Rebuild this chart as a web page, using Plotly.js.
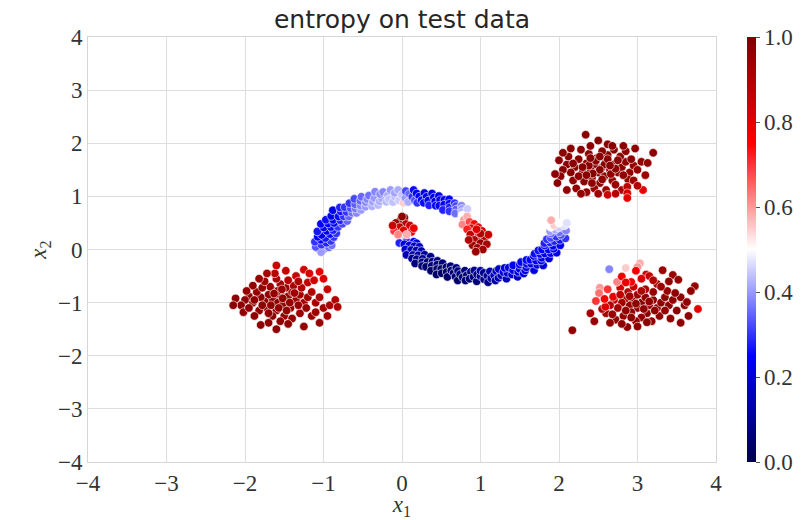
<!DOCTYPE html>
<html>
<head>
<meta charset="utf-8">
<script src="https://cdn.plot.ly/plotly-3.0.1.min.js"></script>
<style>html,body{margin:0;padding:0;background:#fff;}#chart{width:809px;height:520px;}</style>
</head>
<body>
<div id="chart"></div>
<script>
// Each point: [x1, x2, entropy]
const upperMoon = [
[-1.0,0.0,.36],[-1.07,0.02,.38],[-1.03,-0.05,.4],[-0.929,0.041,.35],[-1.099,0.048,.33],
[-1.026,0.09,.3],[-0.896,0.078,.36],[-0.961,0.127,.28],[-1.11,0.147,.3],[-1.034,0.183,.25],
[-0.906,0.16,.3],[-0.976,0.216,.27],[-1.074,0.238,.24],[-0.869,0.233,.3],[-1.024,0.275,.24],
[-0.916,0.289,.26],[-1.078,0.34,.27],[-0.959,0.349,.23],[-0.837,0.304,.3],[-0.998,0.414,.24],
[-0.878,0.364,.28],[-0.906,0.423,.26],[-1.033,0.482,.25],[-0.816,0.425,.3],[-0.94,0.49,.23],
[-0.866,0.5,.25],[-0.97,0.56,.26],[-0.759,0.483,.32],[-0.877,0.558,.24],[-0.786,0.551,.28],
[-0.901,0.631,.22],[-0.809,0.621,.26],[-0.698,0.536,.35],[-0.881,0.739,.22],[-0.743,0.624,.3],
[-0.781,0.717,.27],[-0.678,0.622,.35],[-0.707,0.707,.3],[-0.792,0.792,.28],[-0.635,0.693,.36],
[-0.73,0.796,.3],[-0.656,0.781,.33],[-0.579,0.689,.38],[-0.67,0.872,.3],[-0.591,0.769,.37],
[-0.597,0.852,.34],[-0.522,0.745,.4],[-0.527,0.826,.38],[-0.607,0.953,.32],[-0.53,0.918,.35],
[-0.465,0.805,.4],[-0.462,0.887,.39],[-0.517,0.993,.35],[-0.381,0.815,.42],[-0.444,0.951,.38],
[-0.372,0.896,.41],[-0.421,1.016,.36],[-0.352,0.968,.4],[-0.304,0.837,.43],[-0.343,1.088,.38],
[-0.286,0.906,.42],[-0.259,0.966,.41],[-0.28,1.043,.39],[-0.199,0.898,.43],[-0.24,1.084,.38],
[-0.181,1.024,.42],[-0.167,0.946,.44],[-0.147,1.12,.4],[-0.117,0.892,.44],[-0.087,0.996,.43],
[-0.093,1.066,.41],[-0.041,0.929,.45],[-0.049,1.119,.42],[0.0,1.03,.44],[0.02,0.88,.55],
[0.042,0.969,.4],[0.048,1.099,.32],[0.091,1.046,.35],[0.078,0.896,.42],[0.131,0.991,.3],
[0.148,1.12,.26],[0.164,0.926,.33],[0.186,1.054,.24],[0.22,0.996,.23],[0.194,0.878,.3],
[0.285,1.063,.22],[0.249,0.927,.25],[0.313,0.992,.21],[0.277,0.878,.26],[0.335,0.921,.22],
[0.383,1.053,.22],[0.406,0.979,.2],[0.345,0.832,.28],[0.423,0.906,.21],[0.47,1.006,.2],
[0.43,0.825,.25],[0.485,0.931,.21],[0.54,0.935,.22],[0.475,0.823,.24],[0.537,0.843,.23],
[0.601,0.944,.25],[0.522,0.745,.28],[0.603,0.86,.24],[0.609,0.793,.27],[0.67,0.872,.3],
[0.604,0.72,.3],[0.688,0.82,.32],[0.69,0.752,.34],[0.757,0.825,.38],[0.679,0.679,.36],
[0.764,0.764,.4],[0.766,0.703,.42],[0.833,0.764,.45],[0.766,0.643,.5]
];
const upperTip = [
[0.79,0.56,.6],[0.83,0.62,.58],[0.77,0.47,.62],[0.86,0.52,.68],[0.92,0.48,.75],
[0.88,0.4,.78],[0.97,0.42,.8],[0.83,0.38,.72],[0.93,0.33,.85],[1.02,0.35,.82],
[0.87,0.28,.88],[0.98,0.25,.92],[1.05,0.22,.9],[0.92,0.18,.93],[1.0,0.12,.95],
[0.9,0.08,.94],[1.08,0.1,.92],[0.96,0.03,.95],[1.03,0.0,.94],[0.94,-0.04,.95],
[1.1,0.28,.86],[0.85,0.18,.9],[1.0,0.3,.9],[0.95,0.38,.82]
];
const lowerMoon = [
[0.06,0.158,.3],[-0.034,0.124,.28],[0.15,0.148,.25],[0.03,0.098,.22],[0.094,0.077,.2],
[0.185,0.119,.22],[0.042,0.001,.18],[0.157,0.061,.17],[0.117,-0.01,.15],[0.221,0.05,.18],
[0.056,-0.101,.14],[0.182,-0.021,.13],[0.14,-0.103,.12],[0.247,-0.028,.15],[0.207,-0.109,.1],
[0.128,-0.17,.1],[0.288,-0.098,.1],[0.188,-0.182,.08],[0.263,-0.176,.08],[0.167,-0.264,.07],
[0.364,-0.136,.09],[0.258,-0.242,.06],[0.324,-0.237,.07],[0.256,-0.311,.05],[0.389,-0.228,.07],
[0.306,-0.327,.05],[0.379,-0.309,.05],[0.452,-0.214,.08],[0.369,-0.401,.04],[0.449,-0.286,.06],
[0.447,-0.368,.05],[0.517,-0.259,.07],[0.5,-0.366,.05],[0.44,-0.47,.04],[0.566,-0.334,.06],
[0.506,-0.449,.04],[0.569,-0.424,.05],[0.619,-0.315,.07],[0.579,-0.516,.04],[0.628,-0.396,.05],
[0.658,-0.44,.05],[0.692,-0.346,.07],[0.681,-0.511,.05],[0.714,-0.406,.06],[0.71,-0.582,.05],
[0.741,-0.466,.06],[0.801,-0.398,.08],[0.773,-0.525,.06],[0.826,-0.485,.06],[0.809,-0.584,.05],
[0.878,-0.422,.08],[0.861,-0.55,.06],[0.911,-0.516,.07],[0.922,-0.396,.1],[0.952,-0.599,.06],
[0.957,-0.469,.08],[1.0,-0.5,.08],[1.0,-0.4,.12],[1.046,-0.559,.08],[1.041,-0.439,.1],
[1.087,-0.496,.1],[1.097,-0.616,.09],[1.12,-0.412,.14],[1.137,-0.541,.11],[1.174,-0.485,.13],
[1.191,-0.584,.12],[1.201,-0.406,.16],[1.229,-0.534,.14],[1.264,-0.485,.15],[1.233,-0.369,.18],
[1.331,-0.549,.15],[1.292,-0.425,.18],[1.342,-0.44,.17],[1.308,-0.346,.2],[1.402,-0.47,.18],
[1.36,-0.342,.2],[1.473,-0.515,.17],[1.415,-0.388,.2],[1.416,-0.298,.22],[1.48,-0.422,.2],
[1.5,-0.366,.21],[1.55,-0.453,.2],[1.5,-0.284,.23],[1.57,-0.393,.21],[1.585,-0.335,.22],
[1.517,-0.237,.24],[1.682,-0.389,.2],[1.591,-0.27,.23],[1.643,-0.266,.22],[1.585,-0.197,.25],
[1.723,-0.289,.2],[1.635,-0.193,.24],[1.707,-0.207,.22],[1.799,-0.299,.2],[1.678,-0.122,.25],
[1.774,-0.209,.22],[1.781,-0.156,.22],[1.689,-0.079,.26],[1.873,-0.17,.2],[1.761,-0.084,.24],
[1.819,-0.074,.23],[1.737,-0.017,.26],[1.894,-0.069,.22],[1.784,0.001,.25],[1.866,0.0,.23],
[1.97,-0.06,.22],[1.816,0.075,.26],[1.931,0.015,.24],[1.924,0.069,.25],[1.815,0.119,.28],
[2.016,0.079,.24],[1.887,0.133,.28],[1.94,0.158,.28],[1.846,0.192,.3],[2.011,0.181,.27],
[1.896,0.217,.32],[1.966,0.241,.3],[2.082,0.21,.3],[1.898,0.301,.35],[2.025,0.273,.33],
[2.005,0.323,.36],[1.887,0.343,.4],[2.09,0.356,.38],[1.951,0.374,.42],[1.996,0.413,.45],
[1.896,0.422,.5],[2.069,0.453,.47],[1.939,0.459,.55],[2.0,0.5,.5],[2.1,0.5,.47],[1.9,0.55,.58]
];
const lowerTip = [
[-0.02,0.55,.97],[0.03,0.6,.96],[-0.08,0.5,.95],[0.05,0.48,.9],[-0.03,0.42,.88],
[0.1,0.45,.85],[0.02,0.36,.8],[0.12,0.33,.75],[-0.1,0.35,.7],[-0.05,0.28,.62],
[0.06,0.28,.58],[0.15,0.4,.78],[-0.12,0.45,.85],[0.0,0.62,.97]
];
const leftCluster = [
[-1.6,-0.9,.97],[-1.55,-0.85,.96],[-1.65,-0.95,.97],[-1.5,-0.95,.96],[-1.7,-0.85,.97],[-1.58,-1.0,.97],[-1.62,-0.78,.95],[-1.45,-0.88,.95],[-1.75,-0.98,.97],[-1.52,-1.05,.96],
[-1.68,-0.7,.95],[-1.4,-0.8,.94],[-1.8,-0.9,.97],[-1.48,-0.72,.94],[-1.72,-1.1,.97],[-1.35,-0.95,.95],[-1.85,-0.8,.96],[-1.6,-1.15,.97],[-1.42,-1.1,.96],[-1.9,-1.0,.97],
[-1.55,-0.65,.93],[-1.3,-0.85,.93],[-1.78,-0.72,.96],[-1.25,-1.0,.94],[-1.95,-0.88,.97],[-1.65,-1.25,.97],[-1.38,-0.68,.92],[-1.5,-1.25,.96],[-1.82,-1.15,.97],[-1.2,-0.9,.93],
[-1.6,-0.55,.91],[-1.45,-0.58,.9],[-1.75,-0.6,.94],[-1.28,-0.72,.9],[-2.0,-0.95,.97],[-1.15,-0.8,.9],[-1.1,-1.0,.93],[-1.88,-1.25,.97],[-1.3,-1.2,.95],[-1.55,-1.35,.97],
[-2.05,-1.05,.97],[-1.05,-0.9,.9],[-1.2,-0.62,.87],[-1.9,-0.68,.96],[-1.7,-1.38,.97],[-1.4,-1.3,.96],[-1.0,-1.1,.93],[-2.12,-0.92,.97],[-1.15,-1.25,.95],[-1.62,-0.45,.88],
[-1.35,-0.5,.86],[-1.12,-0.58,.84],[-1.05,-0.42,.8],[-1.25,-0.38,.82],[-1.0,-0.55,.81],[-0.95,-0.75,.85],[-0.92,-1.05,.92],[-0.85,-0.95,.9],[-0.82,-1.08,.91],[-0.95,-1.25,.93],
[-1.05,-1.38,.95],[-1.25,-1.45,.96],[-1.6,-1.5,.97],[-1.8,-1.42,.97],[-2.02,-1.18,.97],[-1.98,-0.78,.96],[-1.72,-0.45,.92],[-1.6,-0.3,.85],[-1.48,-0.4,.86],[-1.82,-0.55,.95],
[-1.58,-0.78,.96],[-1.52,-0.92,.96],[-1.67,-1.05,.97],[-1.43,-1.0,.96],[-1.57,-1.1,.97],[-1.63,-0.83,.96],[-1.37,-0.82,.94],[-1.47,-1.15,.96],[-1.78,-1.05,.97],[-1.53,-0.75,.95],
[-1.32,-1.05,.95],[-1.22,-1.1,.95],[-1.1,-1.18,.94],[-1.7,-1.2,.97],[-1.45,-1.4,.97],[-1.95,-1.1,.97],[-1.18,-0.45,.83],[-1.32,-0.6,.9],[-1.88,-0.95,.97],[-2.15,-1.05,.97]
];
const topRightCluster = [
[2.55,1.55,.98],[2.45,1.6,.98],[2.65,1.5,.98],[2.5,1.45,.98],[2.6,1.65,.98],[2.4,1.5,.98],[2.7,1.6,.98],[2.35,1.62,.98],[2.58,1.38,.97],[2.75,1.45,.97],
[2.3,1.45,.98],[2.48,1.72,.98],[2.8,1.55,.97],[2.2,1.55,.98],[2.62,1.78,.98],[2.42,1.35,.97],[2.85,1.65,.97],[2.25,1.7,.98],[2.68,1.3,.96],[2.15,1.45,.98],
[2.9,1.45,.96],[2.38,1.8,.98],[2.52,1.25,.96],[2.78,1.75,.97],[2.1,1.6,.98],[2.95,1.58,.96],[2.32,1.28,.97],[2.72,1.22,.95],[2.05,1.5,.98],[2.55,1.85,.98],
[2.45,1.15,.95],[2.88,1.32,.95],[2.18,1.3,.97],[2.7,1.88,.98],[3.0,1.5,.95],[2.02,1.38,.98],[2.28,1.88,.98],[2.6,1.12,.94],[2.85,1.85,.97],[2.12,1.75,.98],
[2.95,1.3,.94],[2.4,1.95,.98],[3.05,1.65,.96],[1.98,1.25,.98],[2.22,1.15,.97],[2.8,1.12,.92],[2.0,1.68,.98],[2.62,1.98,.98],[2.34,2.16,.98],[3.2,1.82,.97],
[3.13,1.63,.96],[2.62,1.03,.85],[2.87,1.18,.88],[2.87,1.06,.82],[2.87,0.97,.8],[3.07,1.12,.8],[2.35,1.08,.96],[2.1,1.12,.97],[1.95,1.42,.98],[2.5,2.05,.98],
[2.58,1.6,.98],[2.52,1.5,.98],[2.43,1.43,.98],[2.66,1.42,.97],[2.38,1.58,.98],[2.72,1.52,.97],[2.47,1.67,.98],[2.3,1.55,.98],[2.62,1.7,.98],[2.55,1.32,.97],
[2.82,1.4,.96],[2.25,1.38,.98],[2.42,1.25,.97],[2.75,1.68,.97],[2.18,1.62,.98],[2.92,1.7,.97],[2.68,1.95,.98],[2.05,1.82,.98],[3.1,1.4,.94],[2.97,1.9,.97],
[2.28,1.05,.96],[2.5,1.05,.94],[2.72,1.05,.9],[2.15,1.9,.98],[2.82,1.95,.98],[3.0,1.2,.9],[2.4,1.72,.98],[2.65,1.58,.98],[2.35,1.4,.98],[2.52,1.75,.98]
];
const bottomRightCluster = [
[3.05,-1.0,.97],[2.95,-0.95,.96],[3.15,-1.05,.97],[3.0,-1.1,.97],[3.1,-0.9,.96],[2.9,-1.05,.96],[3.2,-0.95,.97],[2.85,-0.92,.93],[3.25,-1.1,.97],[3.0,-0.85,.94],
[2.8,-1.0,.93],[3.3,-1.0,.97],[2.92,-1.18,.96],[3.12,-1.2,.97],[3.35,-0.9,.97],[2.75,-1.1,.93],[3.2,-0.8,.95],[2.88,-0.8,.9],[3.4,-1.05,.97],[3.05,-1.28,.97],
[2.7,-0.95,.88],[3.45,-0.95,.97],[2.82,-1.25,.95],[3.28,-1.25,.97],[2.65,-1.05,.9],[3.5,-1.15,.97],[3.1,-0.75,.92],[2.95,-0.7,.86],[3.38,-0.78,.96],[2.6,-1.2,.93],
[3.55,-0.9,.97],[2.72,-1.32,.96],[3.18,-1.35,.97],[2.98,-1.35,.97],[3.42,-1.3,.97],[2.55,-1.12,.9],[3.6,-1.05,.97],[2.78,-0.72,.84],[3.25,-0.65,.92],[2.65,-1.38,.96],
[3.32,-0.39,.95],[3.45,-0.48,.95],[3.52,-0.57,.96],[3.73,-0.69,.96],[3.77,-1.12,.8],[3.63,-0.99,.96],[2.17,-1.52,.97],[2.87,-1.46,.97],[3.12,-1.37,.97],[3.4,-0.6,.96],
[2.64,-0.37,.38],[2.85,-0.35,.55],[3.03,-0.26,.58],[3.0,-0.33,.6],[2.74,-0.61,.62],[2.52,-0.72,.6],[2.51,-0.82,.64],[2.47,-0.97,.7],[2.62,-0.75,.7],[2.8,-0.51,.78],
[2.92,-0.61,.76],[2.98,-0.4,.78],[3.11,-0.47,.85],[3.15,-0.5,.86],[2.69,-0.89,.8],[2.59,-1.08,.82],[3.05,-0.55,.82],[3.2,-0.58,.9],[2.58,-0.93,.76],[2.85,-0.62,.8],
[2.4,-1.2,.92],[2.45,-1.35,.95],[3.65,-1.25,.97],[3.55,-1.38,.97],[3.0,-1.45,.97],[2.8,-1.4,.97],[3.08,-1.12,.97],[2.98,-1.02,.97],[3.15,-0.98,.97],[3.22,-1.15,.97],
[2.9,-0.88,.93],[3.05,-0.78,.9],[2.85,-1.15,.96],[3.35,-1.15,.97],[3.48,-0.82,.97],[2.68,-1.22,.95],[3.3,-0.7,.95],[2.78,-0.85,.88],[3.68,-0.78,.97],[2.92,-1.28,.97]
];
const groups = [upperMoon, upperTip, lowerMoon, lowerTip, leftCluster, topRightCluster, bottomRightCluster];
const tickVals = [-4,-3,-2,-1,0,1,2,3,4];
const cbTicks = [0,0.2,0.4,0.6,0.8,1.0];

const seismic = [[0,'rgb(0,0,77)'],[0.25,'rgb(0,0,255)'],[0.5,'rgb(255,255,255)'],[0.75,'rgb(255,0,0)'],[1,'rgb(128,0,0)']];
const serif = 'Liberation Serif';

const traces = groups.map(g => ({
  type: 'scatter', mode: 'markers',
  x: g.map(p => p[0]), y: g.map(p => p[1]),
  marker: {color: g.map(p => p[2]), coloraxis: 'coloraxis', size: 8.5, line: {color: 'white', width: 0.6}},
  hoverinfo: 'skip', showlegend: false
}));

const axisCommon = {
  range: [-4, 4], tickvals: tickVals, gridcolor: '#dedede', gridwidth: 1,
  zeroline: false, showline: true, linecolor: '#d6d6d6', linewidth: 1, mirror: true,
  ticks: '', tickfont: {family: serif, size: 23, color: '#333'}
};

const layout = {
  width: 809, height: 520,
  margin: {l: 88, r: 93, t: 37, b: 58},
  paper_bgcolor: '#fff', plot_bgcolor: '#fff',
  font: {family: serif},
  title: {text: 'entropy on test data', font: {family: 'DejaVu Sans', size: 25, color: '#262626'},
          x: 0.5, xref: 'paper', xanchor: 'center', y: 0.963, yref: 'container', yanchor: 'middle'},
  xaxis: Object.assign({}, axisCommon, {title: {text: '<i>x</i><sub>1</sub>', font: {family: serif, size: 23, color: '#333'}, standoff: 6}}),
  yaxis: Object.assign({}, axisCommon, {title: {text: '<i>x</i><sub>2</sub>', font: {family: serif, size: 23, color: '#333'}, standoff: 4}}),
  coloraxis: {
    cmin: 0, cmax: 1, colorscale: seismic,
    colorbar: {x: 1.049, xanchor: 'left', xref: 'paper', y: 0.5, yanchor: 'middle', len: 1, lenmode: 'fraction',
      thickness: 9, outlinewidth: 0, xpad: 0, ypad: 0, ticks: 'outside', ticklen: 4, tickcolor: '#555',
      tickvals: cbTicks, tickformat: '.1f', tickfont: {family: serif, size: 23, color: '#333'}}
  }
};

Plotly.newPlot('chart', traces, layout, {displayModeBar: false, staticPlot: true});
</script>
</body>
</html>
